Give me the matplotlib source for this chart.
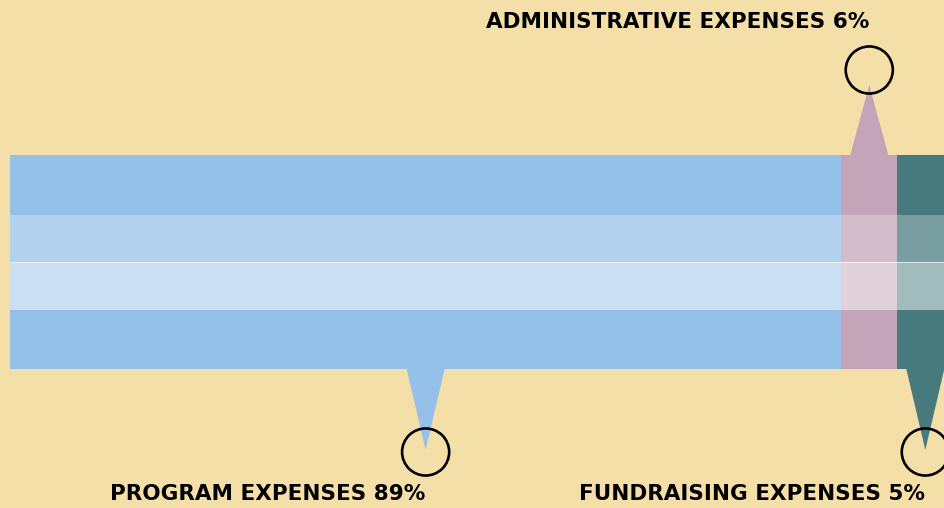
import numpy as np
import matplotlib.pyplot as plt
from matplotlib.patches import Polygon

labels = ["PROGRAM EXPENSES", "ADMINISTRATIVE EXPENSES", "FUNDRAISING EXPENSES"]
values = [89, 6, 5]
colors = ["#95C0E9", "#C4A4B8", "#467A7C"]
# label side: -1 below the bar, +1 above
sides = [-1, 1, -1]

bg = "#F4DFA8"
fig = plt.figure(figsize=(9.44, 5.08), dpi=100, facecolor=bg)
ax = fig.add_axes([0, 0, 1, 1])
ax.set_facecolor(bg)

px = 100 / 934.0  # percent per pixel
ax.set_xlim(-10 * px, 100)
ax.set_ylim(508, 0)
ax.axis("off")

yc, h = 262, 214
lefts = np.cumsum([0] + values[:-1])
ax.barh(yc, values, left=lefts, height=h, color=colors, zorder=2)

# highlight stripes across the bar
ax.barh(238.5, 100, left=0, height=47, color="white", alpha=0.28, zorder=3, lw=0)
ax.barh(286, 100, left=0, height=48, color="white", alpha=0.5, zorder=3, lw=0)
ax.plot([0, 100], [262, 262], color="white", alpha=0.6, lw=0.8, zorder=4)

top, bot = yc - h / 2, yc + h / 2
for lab, v, l, c, s in zip(labels, values, lefts, colors, sides):
    cx = l + v / 2
    if lab.startswith("FUND"):
        cx = l + v * 0.6
    hw = 19 * px
    if s > 0:
        base, apex, cy, ty = top, 85, 70, 22
    else:
        base, apex, cy, ty = bot, 450, 452, 494
    ax.add_patch(Polygon([[cx - hw, base], [cx + hw, base], [cx, apex]],
                         closed=True, color=c, lw=0, zorder=1))
    ax.scatter([cx], [cy], s=1150, facecolors="none", edgecolors="black",
               linewidths=1.9, zorder=5)
    ax.text(cx, ty, f"{lab} {v}%", ha="right", va="center",
            fontsize=15.5, fontweight="bold", color="black", zorder=6)

fig.savefig("out.png", dpi=100, facecolor=bg)
